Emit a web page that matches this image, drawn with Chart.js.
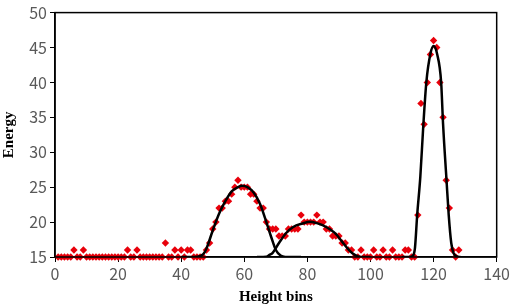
<!DOCTYPE html>
<html>
<head>
<meta charset="utf-8">
<script src="https://cdn.jsdelivr.net/npm/chart.js@4.4.1/dist/chart.umd.min.js"></script>
<style>
  html, body { margin: 0; padding: 0; background: #fff; }
  #wrap { width: 512px; height: 306px; position: relative; }
</style>
</head>
<body>
<div id="wrap"><canvas id="c" width="512" height="306"></canvas></div>
<script>
// Observed energy per height bin (bins 1..128)
const bins = [];
for (let i = 1; i <= 128; i++) bins.push(i);
const energy = [
  15,15,15,15,15,16,15,15,16,15, // 1-10
  15,15,15,15,15,15,15,15,15,15, // 11-20
  15,15,16,15,15,16,15,15,15,15, // 21-30
  15,15,15,15,17,15,15,16,15,16, // 31-40
  15,16,16,15,15,15,15,16,17,19, // 41-50
  20,22,22,23,23,24,25,26,25,25, // 51-60
  25,24,24,23,22,22,20,19,19,19, // 61-70
  18,18,18,19,19,19,19,21,20,20, // 71-80
  20,20,21,20,20,19,19,18,18,18, // 81-90
  17,17,16,16,15,15,16,15,15,15, // 91-100
  16,15,15,16,15,15,16,15,15,15, // 101-110
  16,16,15,15,21,37,34,40,44,46, // 111-120
  45,40,35,26,22,16,15,16        // 121-128
];

// Fitted curves
const curve1X = [40, 45, 47, 48, 50, 52, 54, 56, 58, 59.3, 61, 63, 65, 67, 68.5, 70, 71.5, 73, 78];
const curve1Y = [15, 15.05, 15.4, 16.2, 18.8, 21.2, 23.0, 24.4, 25.0, 25.2, 25.0, 24.2, 22.6, 20.0, 17.9, 16.0, 15.2, 15.0, 15];
const curve2X = [64, 67, 68, 69, 71, 73.2, 75.5, 78.5, 80.8, 83, 84.8, 87, 89, 91, 93.2, 95, 97, 100];
const curve2Y = [15, 15.05, 15.3, 15.6, 17.0, 18.4, 19.3, 19.8, 20.05, 19.85, 19.55, 19.0, 18.3, 17.2, 16.0, 15.3, 15, 15];
const curve3X = [110, 112.5, 113.5, 114.1, 114.8, 115.8, 116.7, 117.7, 119, 120, 121.1, 122.4, 123, 124.1, 124.8, 125.6, 126.3, 127.3, 128.5];
const curve3Y = [15, 15, 15.2, 16.3, 21, 26.5, 33.5, 40, 44.1, 45.2, 44.1, 40, 34.1, 26, 21, 17, 15.6, 15.1, 15];

const xTicks = [0, 20, 40, 60, 80, 100, 120, 140];
const yTicks = [15, 20, 25, 30, 35, 40, 45, 50];

const zip = (xs, ys) => xs.map((x, i) => ({ x: x, y: ys[i] }));

const curveStyle = {
  type: 'line', showLine: true, borderColor: '#000', borderWidth: 2.5,
  pointRadius: 0, fill: false, cubicInterpolationMode: 'monotone'
};

const frame = {
  id: 'frame',
  afterDraw(chart) {
    const a = chart.chartArea, ctx = chart.ctx;
    ctx.save();
    ctx.strokeStyle = '#000';
    ctx.lineWidth = 1.5;
    ctx.strokeRect(a.left, a.top, a.right - a.left, a.bottom - a.top);
    ctx.restore();
  }
};

new Chart(document.getElementById('c'), {
  type: 'scatter',
  data: {
    datasets: [
      Object.assign({ data: zip(curve1X, curve1Y) }, curveStyle),
      Object.assign({ data: zip(curve2X, curve2Y) }, curveStyle),
      Object.assign({ data: zip(curve3X, curve3Y) }, curveStyle),
      {
        type: 'scatter',
        data: zip(bins, energy),
        pointStyle: 'rectRot',
        pointRadius: 3.7,
        backgroundColor: '#e8000b',
        borderColor: '#e8000b',
        borderWidth: 0,
        clip: false
      }
    ]
  },
  options: {
    responsive: false,
    animation: false,
    layout: { padding: { top: 11, right: 14, left: 0, bottom: 0 } },
    plugins: { legend: { display: false }, tooltip: { enabled: false } },
    scales: {
      x: {
        type: 'linear', min: 0, max: 140,
        afterBuildTicks: s => { s.ticks = xTicks.map(v => ({ value: v })); },
        afterFit: s => { s.height = 49; },
        border: { color: '#000', width: 1.5 },
        grid: { display: true, drawOnChartArea: false, drawTicks: true, tickLength: 5, color: '#000', lineWidth: 1 },
        ticks: { color: '#595959', font: { family: 'Noto Sans CJK SC', size: 16 }, padding: 2, maxRotation: 0 },
        title: { display: true, text: 'Height bins', color: '#000', font: { family: 'Liberation Serif', size: 15, weight: 'bold' }, padding: { top: 0, bottom: 0 } }
      },
      y: {
        type: 'linear', min: 15, max: 50,
        afterBuildTicks: s => { s.ticks = yTicks.map(v => ({ value: v })); },
        afterFit: s => { s.width = 55; },
        border: { color: '#000', width: 1.5 },
        grid: { display: true, drawOnChartArea: false, drawTicks: true, tickLength: 5, color: '#000', lineWidth: 1 },
        ticks: { color: '#595959', font: { family: 'Noto Sans CJK SC', size: 16 }, padding: 3 },
        title: { display: true, text: 'Energy', color: '#000', font: { family: 'Liberation Serif', size: 15, weight: 'bold' }, padding: { top: 0, bottom: 0 } }
      }
    }
  },
  plugins: [frame]
});
</script>
</body>
</html>
